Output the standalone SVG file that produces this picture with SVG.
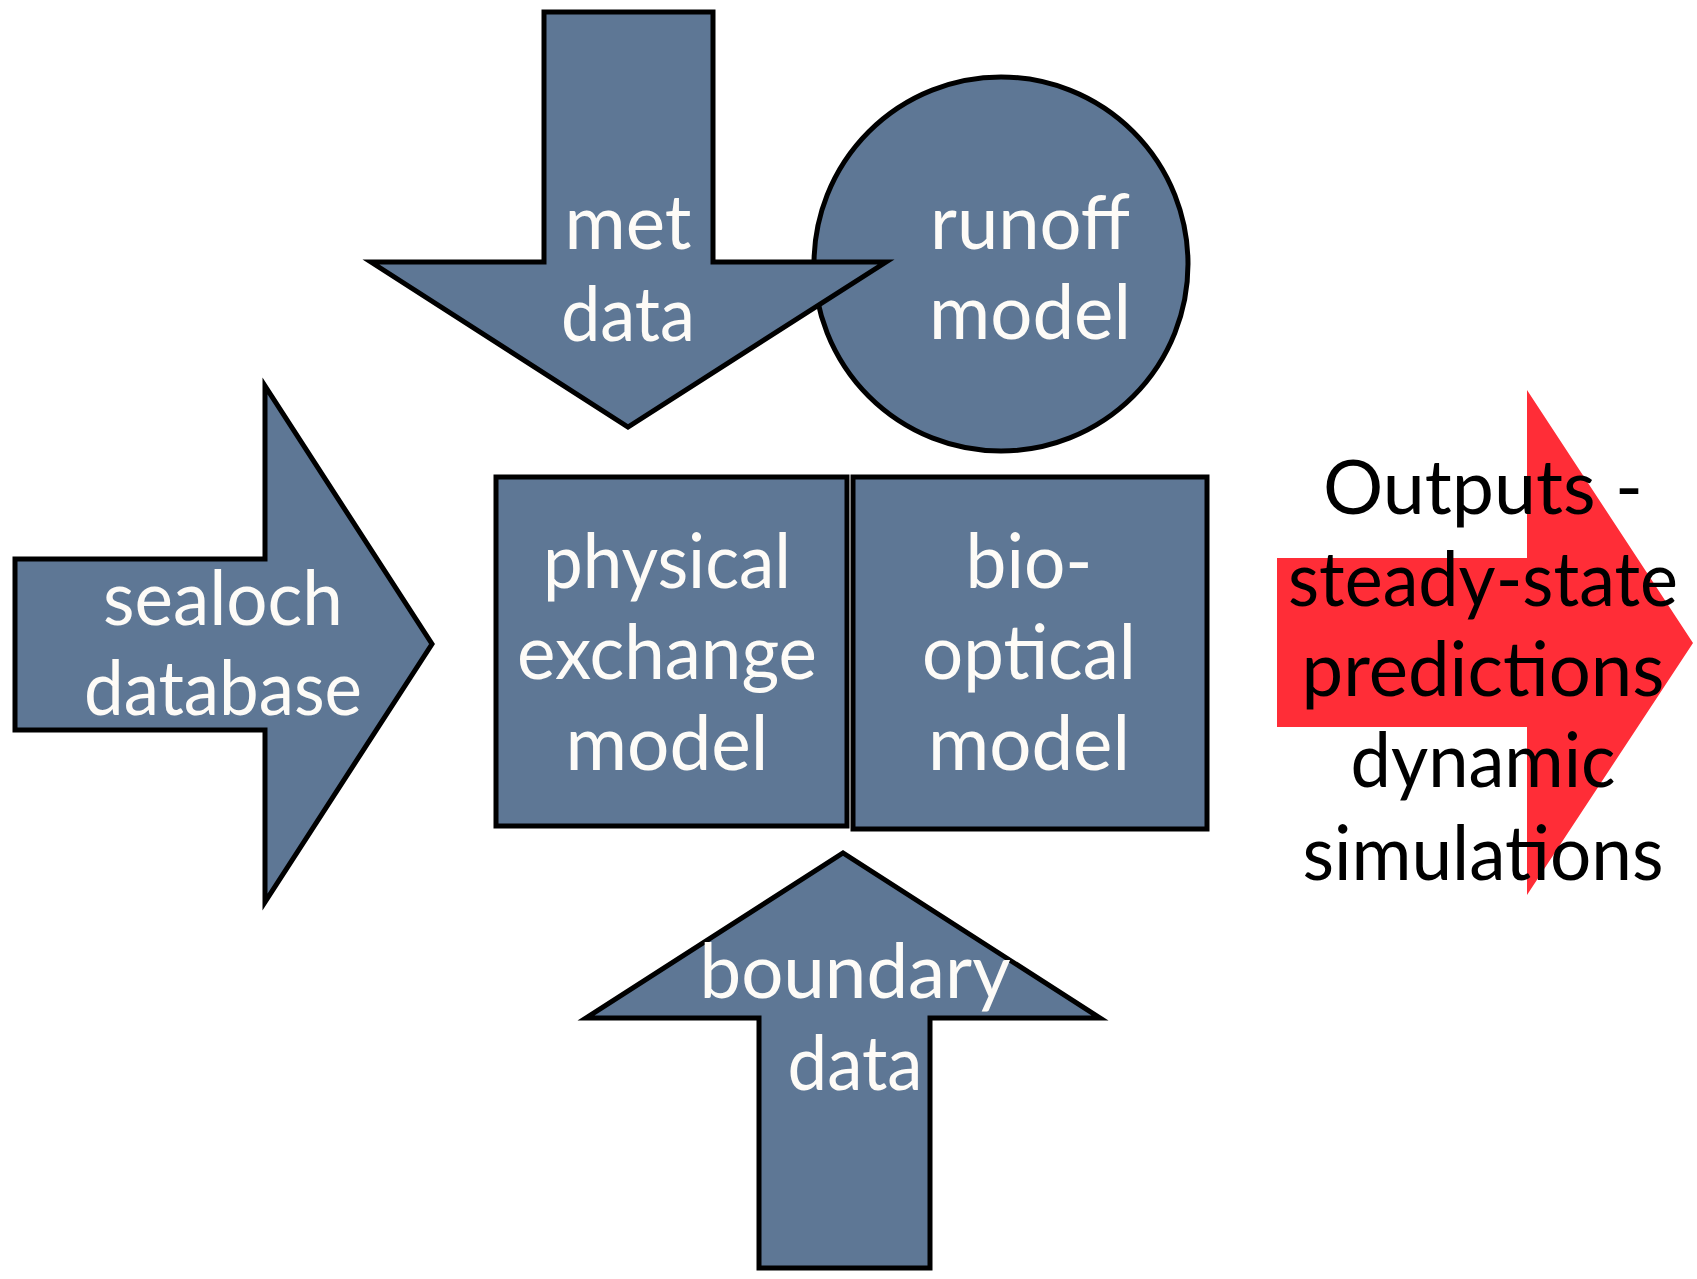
<svg xmlns="http://www.w3.org/2000/svg" width="1697" height="1279" viewBox="0 0 1697 1279">
<style>
.shape{fill:#5e7795;stroke:#000;stroke-width:5;stroke-linejoin:miter}
.wt{fill:#fdfbf7;font-family:Lato,"Open Sans","Liberation Sans",sans-serif;font-size:76px;text-anchor:middle}
.bt{fill:#000;font-family:Lato,"Open Sans","Liberation Sans",sans-serif;font-size:76px;text-anchor:middle}
</style>
<rect width="1697" height="1279" fill="#fff"/>
<g id="runoff-model">
<circle class="shape" cx="1001" cy="264" r="187"/>
</g>
<g id="met-data">
<path class="shape" d="M544,12 H713 V262 H886 L628,427 L371,262 H544 Z"/>
</g>
<g id="runoff-label">
<text class="wt" x="1030" y="249" textLength="200" lengthAdjust="spacingAndGlyphs">runoff</text>
<text class="wt" x="1030" y="339" textLength="202" lengthAdjust="spacingAndGlyphs">model</text>
</g>
<g id="met-label">
<text class="wt" x="628" y="249" textLength="127" lengthAdjust="spacingAndGlyphs">met</text>
<text class="wt" x="628" y="341" textLength="134" lengthAdjust="spacingAndGlyphs">data</text>
</g>
<g id="sealoch-database">
<path class="shape" d="M15,559 H265 V386 L432,644 L265,902 V730 H15 Z"/>
<text class="wt" x="223" y="625" textLength="240" lengthAdjust="spacingAndGlyphs">sealoch</text>
<text class="wt" x="223" y="715" textLength="278" lengthAdjust="spacingAndGlyphs">database</text>
</g>
<g id="physical-exchange-model">
<rect class="shape" x="496" y="477" width="351" height="349"/>
<text class="wt" x="667" y="588" textLength="248" lengthAdjust="spacingAndGlyphs">physical</text>
<text class="wt" x="667" y="679" textLength="300" lengthAdjust="spacingAndGlyphs">exchange</text>
<text class="wt" x="667" y="770" textLength="203" lengthAdjust="spacingAndGlyphs">model</text>
</g>
<g id="bio-optical-model">
<rect class="shape" x="853" y="477" width="354" height="352"/>
<text class="wt" x="1029" y="588" textLength="127" lengthAdjust="spacingAndGlyphs">bio-</text>
<text class="wt" x="1029" y="679" textLength="214" lengthAdjust="spacingAndGlyphs">optical</text>
<text class="wt" x="1029" y="770" textLength="202" lengthAdjust="spacingAndGlyphs">model</text>
</g>
<g id="boundary-data">
<path class="shape" d="M759,1268 V1018 H586 L843,853 L1100,1018 H930 V1268 Z"/>
<text class="wt" x="855" y="998" textLength="311" lengthAdjust="spacingAndGlyphs">boundary</text>
<text class="wt" x="855" y="1090" textLength="135" lengthAdjust="spacingAndGlyphs">data</text>
</g>
<g id="outputs">
<path d="M1277,558 H1527 V390 L1693,643 L1527,895 V727 H1277 Z" fill="#ff2d37"/>
<text class="bt" x="1483" y="514" textLength="320" lengthAdjust="spacingAndGlyphs">Outputs -</text>
<text class="bt" x="1483" y="606" textLength="390" lengthAdjust="spacingAndGlyphs">steady-state</text>
<text class="bt" x="1483" y="696" textLength="363" lengthAdjust="spacingAndGlyphs">predictions</text>
<text class="bt" x="1483" y="787" textLength="265" lengthAdjust="spacingAndGlyphs">dynamic</text>
<text class="bt" x="1483" y="880" textLength="361" lengthAdjust="spacingAndGlyphs">simulations</text>
</g>
<g id="connectors"></g>
</svg>
